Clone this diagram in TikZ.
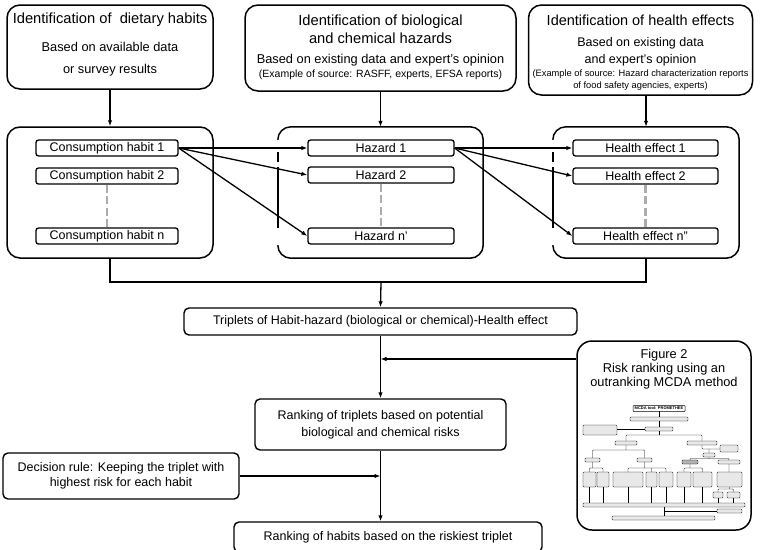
\documentclass[tikz,border=0pt]{standalone}
\usepackage{fontspec}
\setmainfont{Liberation Sans}
\usetikzlibrary{arrows.meta,positioning}

\begin{document}
\begin{tikzpicture}[x=1pt,y=-1pt,
    box/.style={draw, line width=1.4pt, rounded corners=5pt, inner sep=0pt, font=\fontsize{12.5}{17}\selectfont, align=center},
    bigbox/.style={draw, line width=1.5pt, rounded corners=13pt, inner sep=0pt},
    item/.style={draw, line width=1.3pt, rounded corners=2.5pt, minimum width=142pt, minimum height=16pt, inner sep=0pt, font=\fontsize{12.5}{14}\selectfont},
    flow/.style={line width=1.3pt, -{Latex[length=6pt,width=4.5pt]}},
    gap/.style={line width=2.5pt, gray!65, dash pattern=on 8pt off 3.5pt},
    tiny/.style={line width=0.35pt, rounded corners=0.8pt}]
    \useasboundingbox (0,0) rectangle (762,549);
    \clip (0,0) rectangle (762,549);

    % identification boxes
    \node[bigbox, minimum width=206pt, minimum height=84pt] (dietid) at (110,47) {};
    \node[font=\fontsize{14.7}{18}\selectfont] (diettitle) at (110,20) {Identification of \ dietary habits};
    \node[font=\fontsize{12.8}{22}\selectfont, align=center] (dietsrc) at (110,59) {Based on available data\\or survey results};

    \node[bigbox, minimum width=271pt, minimum height=86pt] (hazid) at (380.5,48) {};
    \node[font=\fontsize{14.7}{18}\selectfont, align=center] (haztitle) at (380.5,29) {Identification of biological\\and chemical hazards};
    \node[font=\fontsize{12.8}{15}\selectfont] (hazsrc) at (380.5,60) {Based on existing data and expert's opinion};
    \node[font=\fontsize{10.5}{12}\selectfont] (hazex) at (380.5,75) {(Example of source: RASFF, experts, EFSA reports)};

    \node[bigbox, minimum width=224pt, minimum height=90pt] (effid) at (640.5,50) {};
    \node[font=\fontsize{14.5}{18}\selectfont] (efftitle) at (640.5,20) {Identification of health effects};
    \node[font=\fontsize{12.5}{17}\selectfont, align=center] (effsrc) at (640.5,51.5) {Based on existing data\\and expert's opinion};
    \node[font=\fontsize{9.3}{12}\selectfont, align=center] (effex) at (640.5,80) {(Example of source: Hazard characterization reports\\of food safety agencies, experts)};

    % groups
    \node[bigbox, minimum width=206pt, minimum height=131pt] (grp1) at (110,192.5) {};
    \node[minimum width=205pt, minimum height=131pt, inner sep=0pt] (grp2) at (380.5,192.5) {};
    \node[minimum width=186pt, minimum height=131pt, inner sep=0pt] (grp3) at (646,192.5) {};
    \foreach \g in {grp2,grp3} {
        \draw[line width=1.5pt, rounded corners=13pt] ([yshift=-13pt]\g.north west) |- (\g.north east) |- (\g.south west) -- ([yshift=13pt]\g.south west);
        \draw[line width=1.5pt, dash pattern=on 10pt off 5pt on 61pt off 20pt] ([yshift=-25pt]\g.north west) -- ([yshift=25pt]\g.south west);
    }

    \node[item] (habit1) at (107,148) {Consumption habit 1};
    \node[item] (habit2) at (107,176) {Consumption habit 2};
    \node[item] (habitn) at (107,236) {Consumption habit n};
    \node[item, minimum width=146pt] (haz1) at (381,148) {Hazard 1};
    \node[item, minimum width=146pt] (haz2) at (381,175) {Hazard 2};
    \node[item, minimum width=146pt] (hazn) at (381,236) {Hazard n'};
    \node[item, minimum width=145pt] (eff1) at (645.5,148) {Health effect 1};
    \node[item, minimum width=145pt] (eff2) at (645.5,176) {Health effect 2};
    \node[item, minimum width=145pt] (effn) at (645.5,236) {Health effect n''};

    \draw[gap] (habit2.south) -- (habitn.north);
    \draw[gap] (haz2.south) -- (hazn.north);
    \draw[gap] (eff2.south) -- (effn.north);

    \draw[flow] (dietid.south) -- (grp1.north);
    \draw[flow] (hazid.south) -- (grp2.north);
    \draw[flow] (effid.south -| grp3.north) -- (grp3.north);
    \foreach \h in {haz1,haz2,hazn}
        \draw[flow] (habit1.east) -- (\h.west);
    \foreach \e in {eff1,eff2,effn}
        \draw[flow] (haz1.east) -- (\e.west);

    % ranking
    \node[box, minimum width=393pt, minimum height=27pt] (triplets) at (380.5,321.5) {Triplets of Habit-hazard (biological or chemical)-Health effect};
    \node[box, minimum width=251pt, minimum height=51pt, font=\fontsize{12.5}{17}\selectfont] (ranking) at (380.5,424.5) {Ranking of triplets based on potential\\biological and chemical risks};
    \node[box, minimum width=236pt, minimum height=46pt, font=\fontsize{12.5}{15}\selectfont] (decision) at (121,476) {Decision rule: Keeping the triplet with\\highest risk for each habit};
    \node[box, minimum width=308pt, minimum height=30pt] (habitrank) at (388,537) {Ranking of habits based on the riskiest triplet};
    \node[bigbox, rounded corners=15pt, minimum width=174pt, minimum height=189pt] (fig2) at (664,435.5) {};
    \node[font=\fontsize{12.8}{14}\selectfont, align=center] (fig2txt) at (664,369) {Figure 2\\Risk ranking using an\\outranking MCDA method};

    \coordinate (join) at (381,282);
    \coordinate (fig2in) at (fig2.west |- 0,359);
    \draw[line width=1.3pt] (grp1.south) |- (join) -| (grp3.south);
    \draw[flow] (join) -- (triplets.north);
    \draw[flow] (triplets.south) -- (ranking.north);
    \draw[flow] (fig2in) -- (fig2in -| triplets.south);
    \draw[flow] (decision.east) -- (decision.east -| ranking.south);
    \draw[flow] (ranking.south) -- (ranking.south |- habitrank.north);

    % thumbnail of figure 2
    \node[draw, line width=0.5pt, rounded corners=0.8pt, font=\fontsize{4}{4}\selectfont\bfseries, minimum width=52pt, minimum height=6pt, inner sep=0pt] (mcda) at (659,408.5) {MCDA tool: PROMETHEE};
    \begin{scope}[tiny]
        \foreach \xa/\ya/\xb/\yb in {630/417/688/421, 583/425/617/435, 645/427/673/431, 615/441/637/445, 687/441/717/445,
            720/445/738/452, 585/458/600/462, 637/458/652/462, 703/453/715/457, 718/460/740/464,
            583/472/596/487, 597/472/609/487, 613/472/643/487, 646/472/657/487, 659/472/673/487,
            677/472/691/487, 693/472/712/487, 717/472/742/487, 713/492/723/498, 727/492/740/498,
            583/503/745/507, 717/509/742/513, 612/516/715/520}
            \draw[fill=gray!18] (\xa,\ya) rectangle (\xb,\yb);
        \draw[fill=gray!60] (682,460) rectangle (698,464);
        \draw (659,411) -- (659,417) (659,421) -- (659,427) (617,429) -- (645,429) (659,431) -- (659,435);
        \draw (626,441) -- (626,435) -- (702,435) -- (702,441);
        \draw (626,445) -- (626,450) (592.5,458) -- (592.5,450) -- (644.5,450) -- (644.5,458);
        \draw (702,445) -- (702,449) -- (720,449) (709,449) -- (709,453);
        \draw (709,457) -- (709,458.5) (690,460) -- (690,458.5) -- (729,458.5) -- (729,460);
        \draw (592.5,462) -- (592.5,468) (589.5,472) -- (589.5,468) -- (603,468) -- (603,472);
        \draw (644.5,462) -- (644.5,468) (628,472) -- (628,468) -- (666,468) -- (666,472) (651.5,468) -- (651.5,472);
        \draw (690,464) -- (690,468) (684,472) -- (684,468) -- (702.5,468) -- (702.5,472);
        \draw (729,464) -- (729,472) (729.5,487) -- (729.5,489) (718,492) -- (718,489) -- (733.5,489) -- (733.5,492);
        \foreach \x in {589.5,603,628,651.5,666,684,702.5}
            \draw (\x,487) -- (\x,503);
        \draw (718,498) -- (718,503) (733.5,498) -- (733.5,503);
        \draw (664,507) -- (664,516) (664,511) -- (717,511);
    \end{scope}
\end{tikzpicture}
\end{document}
